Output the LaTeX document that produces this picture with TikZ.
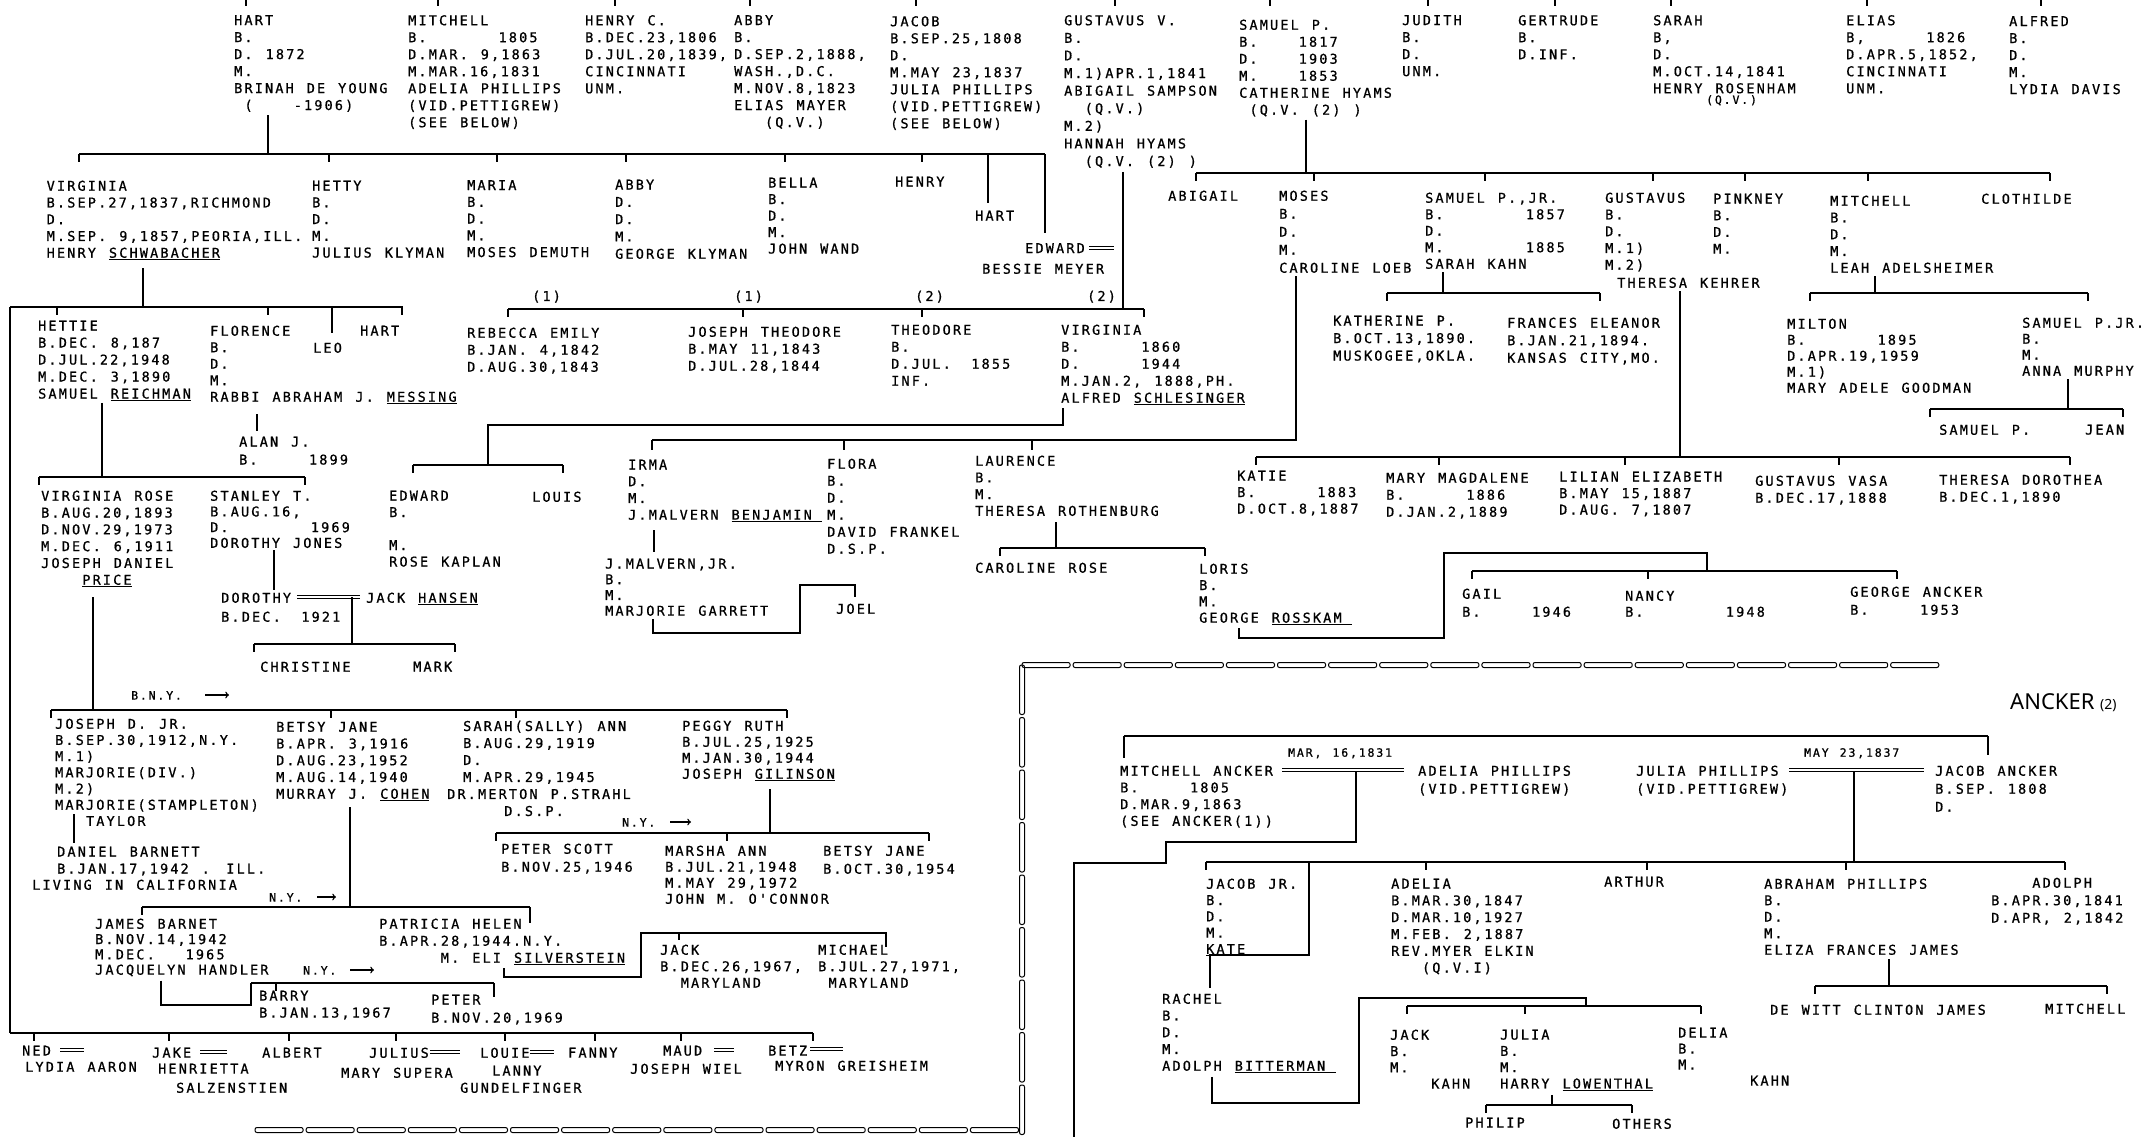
\documentclass[tikz,border=0pt]{standalone}
\usepackage{fontspec}
\newfontfamily\typ[LetterSpace=16,WordSpace={1.265,0,0},FakeBold=0.8]{DejaVu Sans Mono}
\newfontfamily\ttl{Noto Sans}
\newlength{\chw}
\setlength{\chw}{10.28pt}
\newcommand{\pad}[1]{\hspace*{#1\chw}}
\newcommand{\sibbar}[4]{%
  % #1 = y of the bar
  % #2, #3 = left and right ends
  % #4 = x of the drops
  \draw[kin] (#2,#1) -- (#3,#1);
  \foreach \tx in {#4} \draw[kin] (\tx,#1) -- ++(0,8);
}
\newcommand{\ropeh}[4]{%
  % #1 = y, #2 = start x, #3 = link length, #4 = links
  \foreach \k in {1,...,#4}
    \draw[rope] ({#2+(\k-1)*#3},{#1-2.5}) rectangle ({#2+\k*#3-3},{#1+2.5});
}
\newcommand{\ropev}[4]{%
  % #1 = x, #2 = start y, #3 = link length, #4 = links
  \foreach \k in {1,...,#4}
    \draw[rope] ({#1-2.5},{#2+(\k-1)*#3}) rectangle ({#1+2.5},{#2+\k*#3-3});
}
\tikzset{
  pers/.style={font={\typ\fontsize{13.5}{#1}\selectfont}, align=left, inner sep=0pt, anchor=north west},
  pers/.default=17,
  note/.style={font={\typ\fontsize{11.5}{13}\selectfont}, inner sep=0pt, anchor=north west},
  kin/.style={line width=1.4pt},
  wed/.style={double, double distance=2.2pt, line width=0.9pt},
  rope/.style={line width=1pt, rounded corners=2pt},
}

\begin{document}
\begin{tikzpicture}[x=1pt, y=-1pt]
  \fill[white] (0,0) rectangle (2143,1137);
  \useasboundingbox (0,0) rectangle (2143,1137);

  % ---- first generation
  \foreach \tx in {246,438,615,750,916,1115,1270,1428,1555,1671,1867,2041}
    \draw[kin] (\tx,0) -- (\tx,6);
  \node[pers] (hart) at (234,15) {HART\\B.\\D. 1872\\M.\\BRINAH DE YOUNG\\\pad{1}(\pad{4}-1906)};
  \node[pers] (mitchell) at (408,15) {MITCHELL\\B.\pad{7}1805\\D.MAR. 9,1863\\M.MAR.16,1831\\ADELIA PHILLIPS\\(VID.PETTIGREW)\\(SEE BELOW)};
  \node[pers] (henryc) at (585,15) {HENRY C.\\B.DEC.23,1806\\D.JUL.20,1839,\\CINCINNATI\\UNM.};
  \node[pers] (abby) at (734,15) {ABBY\\B.\\D.SEP.2,1888,\\WASH.,D.C.\\M.NOV.8,1823\\ELIAS MAYER\\\pad{3}(Q.V.)};
  \node[pers] (jacob) at (890,16) {JACOB\\B.SEP.25,1808\\D.\\M.MAY 23,1837\\JULIA PHILLIPS\\(VID.PETTIGREW)\\(SEE BELOW)};
  \node[pers=17.6] (gustavus) at (1064,15) {GUSTAVUS V.\\B.\\D.\\M.1)APR.1,1841\\ABIGAIL SAMPSON\\\pad{2}(Q.V.)\\M.2)\\HANNAH HYAMS\\\pad{2}(Q.V. (2) )};
  \node[pers] (samuel) at (1239,19.5) {SAMUEL P.\\B.\pad{4}1817\\D.\pad{4}1903\\M.\pad{4}1853\\CATHERINE HYAMS\\\pad{1}(Q.V. (2) )};
  \node[pers] (judith) at (1402,15) {JUDITH\\B.\\D.\\UNM.};
  \node[pers] (gertrude) at (1518,15) {GERTRUDE\\B.\\D.INF.};
  \node[pers] (sarah) at (1653,15) {SARAH\\B,\\D.\\M.OCT.14,1841\\HENRY ROSENHAM};
  \node[note] (sarahqv) at (1706,95) {(Q.V.)};
  \node[pers] (elias) at (1846,15) {ELIAS\\B,\pad{6}1826\\D.APR.5,1852,\\CINCINNATI\\UNM.};
  \node[pers] (alfred) at (2009,16) {ALFRED\\B.\\D.\\M.\\LYDIA DAVIS};

  % ---- Hart's children
  \draw[kin] (hart.south -| 268,0) ++(0,3) -- (268,154);
  \sibbar{154}{79}{1045}{79,329,497,626,785,922}
  \draw[kin] (988,154) -- (988,203);
  \draw[kin] (1045,154) -- (1045,233);
  \node[pers=16.75] (virginia) at (46.5,180.5) {VIRGINIA\\B.SEP.27,1837,RICHMOND\\D.\\M.SEP. 9,1857,PEORIA,ILL.\\HENRY \underline{SCHWABACHER}};
  \node[pers=16.75] (hetty) at (312,180.5) {HETTY\\B.\\D.\\M.\\JULIUS KLYMAN};
  \node[pers=16.75] (maria) at (467,180) {MARIA\\B.\\D.\\M.\\MOSES DEMUTH};
  \node[pers=17.3] (abbyk) at (615,179.5) {ABBY\\D.\\D.\\M.\\GEORGE KLYMAN};
  \node[pers=16.5] (bella) at (768,177.5) {BELLA\\B.\\D.\\M.\\JOHN WAND};
  \node[pers] (henry) at (895,176.5) {HENRY};
  \node[pers] (harty) at (975,210.5) {HART};
  \node[pers] (edward) at (1025,243) {EDWARD};
  \draw[wed] (1089,248) -- (1114,248);
  \node[pers] (bessie) at (982,263.5) {BESSIE MEYER};

  % ---- Gustavus V.'s children
  \draw[kin] (gustavus.south -| 1123,0) ++(0,4) -- (1123,309);
  \sibbar{309}{508}{1144}{508,743,922,1144}
  \node[pers] (one) at (532,290.5) {(1)};
  \node[pers] (onee) at (734,290.5) {(1)};
  \node[pers] (two) at (915,290.5) {(2)};
  \node[pers] (twoo) at (1087,290.5) {(2)};
  \node[pers] (rebecca) at (467,327.5) {REBECCA EMILY\\B.JAN. 4,1842\\D.AUG.30,1843};
  \node[pers] (josephth) at (688,326.5) {JOSEPH THEODORE\\B.MAY 11,1843\\D.JUL.28,1844};
  \node[pers] (theodore) at (891,324.5) {THEODORE\\B.\\D.JUL.\pad{2}1855\\INF.};
  \node[pers] (virginias) at (1061,324.5) {VIRGINIA\\B.\pad{6}1860\\D.\pad{6}1944\\M.JAN.2, 1888,PH.\\ALFRED \underline{SCHLESINGER}};

  % ---- Schlesinger children
  \draw[kin] (virginias.south -| 1063,0) ++(0,3) -- (1063,425) -- (488,425) -- (488,465);
  \sibbar{465}{413}{563}{413,563}
  \node[pers=16.5] (edwards) at (389,490.5) {EDWARD\\B.\\\mbox{}\\M.\\ROSE KAPLAN};
  \node[pers] (louis) at (532,491.5) {LOUIS};

  % ---- Samuel P.'s children
  \draw[kin] (samuel.south -| 1306,0) ++(0,3) -- (1306,173);
  \sibbar{173}{1196}{2050}{1196,1314,1485,1653,1745,1868,2050}
  \node[pers] (abigail) at (1168,190.5) {ABIGAIL};
  \node[pers=18] (moses) at (1279,190.5) {MOSES\\B.\\D.\\M.\\CAROLINE LOEB};
  \node[pers=16.5] (samjr) at (1425,192.5) {SAMUEL P.,JR.\\B.\pad{8}1857\\D.\\M.\pad{8}1885\\SARAH KAHN};
  \node[pers=16.75] (gusk) at (1605,192.5) {GUSTAVUS\\B.\\D.\\M.1)\\M.2)};
  \node[pers] (kehrer) at (1617,277.5) {THERESA KEHRER};
  \node[pers=16.7] (pinkney) at (1713,193.5) {PINKNEY\\B.\\D.\\M.};
  \node[pers=16.75] (mitchl) at (1830,195.5) {MITCHELL\\B.\\D.\\M.\\LEAH ADELSHEIMER};
  \node[pers] (clothilde) at (1981,193.5) {CLOTHILDE};

  \draw[kin] (samjr.south -| 1443,0) ++(0,3) -- (1443,293);
  \sibbar{293}{1387}{1600}{1387,1600}
  \node[pers=17.5] (katherine) at (1333,315.5) {KATHERINE P.\\B.OCT.13,1890.\\MUSKOGEE,OKLA.};
  \node[pers=17.5] (frances) at (1507,317.5) {FRANCES ELEANOR\\B.JAN.21,1894.\\KANSAS CITY,MO.};

  \draw[kin] (mitchl.south -| 1875,0) ++(0,3) -- (1875,293);
  \sibbar{293}{1810}{2088}{1810,2088}
  \node[pers=16] (milton) at (1787,318.5) {MILTON\\B.\pad{7}1895\\D.APR.19,1959\\M.1)\\MARY ADELE GOODMAN};
  \node[pers=16] (samjrr) at (2022,317.5) {SAMUEL P.JR.\\B.\\M.\\ANNA MURPHY};
  \draw[kin] (samjrr.south -| 2068,0) ++(0,3) -- (2068,409);
  \sibbar{409}{1930}{2123}{1930,2123}
  \node[pers] (samp) at (1939,424.5) {SAMUEL P.};
  \node[pers] (jean) at (2085,424.5) {JEAN};

  \draw[kin] (kehrer.south -| 1680,0) ++(0,3) -- (1680,457);
  \sibbar{457}{1256}{2070}{1256,1439,1625,1839,2070}
  \node[pers=16.5] (katie) at (1237,470.5) {KATIE\\B.\pad{6}1883\\D.OCT.8,1887};
  \node[pers=17] (marym) at (1386,472.5) {MARY MAGDALENE\\B.\pad{6}1886\\D.JAN.2,1889};
  \node[pers=16.5] (lilian) at (1559,471.5) {LILIAN ELIZABETH\\B.MAY 15,1887\\D.AUG. 7,1807};
  \node[pers] (gusvasa) at (1755,475.5) {GUSTAVUS VASA\\B.DEC.17,1888};
  \node[pers] (theresad) at (1939,474.5) {THERESA DOROTHEA\\B.DEC.1,1890};

  % ---- Moses and Caroline Loeb
  \draw[kin] (moses.south -| 1296,0) ++(0,3) -- (1296,440) -- (652,440);
  \foreach \tx in {652,844,1032} \draw[kin] (\tx,440) -- ++(0,10);
  \node[pers=16.7] (irma) at (628,459.5) {IRMA\\D.\\M.\\J.MALVERN \underline{BENJAMIN\pad{1}}};
  \draw[kin] (irma.south -| 654,0) ++(0,8) -- (654,552);
  \node[pers=15.7] (jmalvern) at (605,558.5) {J.MALVERN,JR.\\B.\\M.\\MARJORIE GARRETT};
  \draw[kin] (jmalvern.south -| 653,0) ++(0,3) -- (653,633) -- (800,633) -- (800,585) -- (855,585) -- (855,597);
  \node[pers] (joel) at (836,603.5) {JOEL};
  \node[pers] (flora) at (827,458.5) {FLORA\\B.\\D.\\M.\\DAVID FRANKEL\\D.S.P.};
  \node[pers=16.7] (laurence) at (975,455.5) {LAURENCE\\B.\\M.\\THERESA ROTHENBURG};
  \draw[kin] (laurence.south -| 1056,0) ++(0,6) -- (1056,548);
  \sibbar{548}{1000}{1205}{1000,1205}
  \node[pers] (caroline) at (975,562.5) {CAROLINE ROSE};
  \node[pers=16.3] (loris) at (1199,563.5) {LORIS\\B.\\M.\\GEORGE \underline{ROSSKAM\pad{1}}};
  \draw[kin] (loris.south -| 1239,0) ++(0,3) -- (1239,638) -- (1444,638) -- (1444,553) -- (1707,553) -- (1707,571);
  \sibbar{571}{1472}{1897}{1472,1648,1897}
  \node[pers=18] (gail) at (1462,588.5) {GAIL\\B.\pad{5}1946};
  \node[pers=16] (nancy) at (1625,590.5) {NANCY\\B.\pad{8}1948};
  \node[pers=18] (georgea) at (1850,586.5) {GEORGE ANCKER\\B.\pad{5}1953};

  % ---- Schwabacher children
  \draw[kin] (virginia.south -| 143,0) ++(0,8) -- (143,307);
  \sibbar{307}{10}{403}{57,268,402}
  \draw[kin] (332,307) -- (332,333);
  \draw[kin] (10,307) -- (10,1033);
  \node[pers] (hettie) at (38,320.5) {HETTIE\\B.DEC. 8,187\\D.JUL.22,1948\\M.DEC. 3,1890\\SAMUEL \underline{REICHMAN}};
  \node[pers=16.5] (florence) at (210,325.5) {FLORENCE\\B.\\D.\\M.\\RABBI ABRAHAM J. \underline{MESSING}};
  \node[pers] (leo) at (313,342.5) {LEO};
  \node[pers] (hartv) at (360,325.5) {HART};
  \draw[kin] (florence.south -| 257,0) ++(0,10) -- (257,431);
  \node[pers=18] (alan) at (239,436.5) {ALAN J.\\B.\pad{5}1899};

  \draw[kin] (hettie.south -| 102,0) ++(0,2) -- (102,477);
  \sibbar{477}{39}{305}{39,305}
  \node[pers=16.8] (virginiar) at (41,490.5) {VIRGINIA ROSE\\B.AUG.20,1893\\D.NOV.29,1973\\M.DEC. 6,1911\\JOSEPH DANIEL\\\pad{4}\underline{PRICE}};
  \node[pers=15.7] (stanley) at (210,490.5) {STANLEY T.\\B.AUG.16,\\D.\pad{8}1969\\DOROTHY JONES};
  \draw[kin] (stanley.south -| 274,0) ++(0,2) -- (274,590);
  \node[pers=19] (dorothy) at (221,592.5) {DOROTHY\\B.DEC.\pad{2}1921};
  \draw[wed] (297,597) -- (360,597);
  \coordinate (hansenwed) at (352,597);
  \node[pers] (jack) at (366,592.5) {JACK \underline{HANSEN}};
  \draw[kin] (hansenwed) -- (352,644);
  \sibbar{644}{254}{455}{254,455}
  \node[pers] (christine) at (260,661.5) {CHRISTINE};
  \node[pers] (mark) at (413,661.5) {MARK};

  % ---- Price children
  \draw[kin] (virginiar.south -| 93,0) ++(0,10) -- (93,710);
  \sibbar{710}{51}{787}{51,331,516,787}
  \node[note] (bny) at (131,691) {B.N.Y.};
  \draw[kin, ->] (205,695) -- (229,695);
  \node[pers=16.2] (josephd) at (55,718.5) {JOSEPH D. JR.\\B.SEP.30,1912,N.Y.\\M.1)\\MARJORIE(DIV.)\\M.2)\\MARJORIE(STAMPLETON)\\\pad{3}TAYLOR};
  \draw[kin] (74,814) -- (74,843);
  \node[pers] (daniel) at (57,846.5) {DANIEL BARNETT\\B.JAN.17,1942 . ILL.};
  \node[pers] (living) at (32,879.5) {LIVING IN CALIFORNIA};
  \node[pers=16.75] (betsy) at (276,721.5) {BETSY JANE\\B.APR. 3,1916\\D.AUG.23,1952\\M.AUG.14,1940\\MURRAY J. \underline{COHEN}};
  \node[pers] (sarahs) at (463,720.5) {SARAH(SALLY) ANN\\B.AUG.29,1919\\D.\\M.APR.29,1945\\\hspace*{-16pt}DR.MERTON P.STRAHL\\\pad{4}D.S.P.};
  \node[pers=16] (peggy) at (682,720.5) {PEGGY RUTH\\B.JUL.25,1925\\M.JAN.30,1944\\JOSEPH \underline{GILINSON}};

  % ---- Cohen children
  \draw[kin] (betsy.south -| 350,0) ++(0,6) -- (350,907);
  \sibbar{907}{142}{530}{142,530}
  \draw[kin] (530,907) -- (530,923);
  \node[note] (nya) at (269,893) {N.Y.};
  \draw[kin, ->] (317,897) -- (336,897);
  \node[pers=15.3] (james) at (95,918.5) {JAMES BARNET\\B.NOV.14,1942\\M.DEC.\pad{3}1965\\JACQUELYN HANDLER};
  \draw[kin] (james.south -| 161,0) ++(0,4) -- (161,1005) -- (251,1005) -- (251,983);
  \sibbar{983}{251}{494}{276,494}
  \draw[kin] (494,983) -- (494,997);
  \node[note] (nyb) at (303,966) {N.Y.};
  \draw[kin, ->] (350,970) -- (374,970);
  \node[pers] (barry) at (259,990.5) {BARRY\\B.JAN.13,1967};
  \node[pers=18] (peter) at (431,994.5) {PETER\\B.NOV.20,1969};
  \node[pers] (patricia) at (379,918.5) {PATRICIA HELEN\\B.APR.28,1944.N.Y.\\\pad{6}M. ELI \underline{SILVERSTEIN}};
  \draw[kin] (patricia.south -| 504,0) ++(0,3) -- (504,977) -- (641,977) -- (641,933) -- (886,933) -- (886,947);
  \draw[kin] (679,933) -- (679,940);
  \node[pers=16.5] (jackm) at (660,944.5) {JACK\\B.DEC.26,1967,\\\pad{2}MARYLAND};
  \node[pers=16.5] (michael) at (818,944.5) {MICHAEL\\B.JUL.27,1971,\\\pad{1}MARYLAND};

  % ---- Gilinson children
  \draw[kin] (peggy.south -| 770,0) ++(0,8) -- (770,833);
  \sibbar{833}{496}{929}{496,727,929}
  \node[note] (nyc) at (622,818) {N.Y.};
  \draw[kin, ->] (670,822) -- (691,822);
  \node[pers=18] (peters) at (501,843.5) {PETER SCOTT\\B.NOV.25,1946};
  \node[pers=16] (marsha) at (665,845.5) {MARSHA ANN\\B.JUL.21,1948\\M.MAY 29,1972\\JOHN M. O'CONNOR};
  \node[pers=18] (betsyj) at (823,845.5) {BETSY JANE\\B.OCT.30,1954};

  % ---- the long line on the left
  \sibbar{1033}{10}{813}{34,169,289,396,505,595,681,813}
  \node[pers] (ned) at (22,1045.5) {NED};
  \draw[wed] (60,1050) -- (84,1050);
  \node[pers] (lydia) at (25,1061.5) {LYDIA AARON};
  \node[pers] (jake) at (152,1047.5) {JAKE};
  \draw[wed] (200,1052) -- (227,1052);
  \node[pers] (henrietta) at (158,1063.5) {HENRIETTA};
  \node[pers] (salzen) at (176,1082.5) {SALZENSTIEN};
  \node[pers] (albert) at (262,1047.5) {ALBERT};
  \node[pers] (julius) at (369,1047.5) {JULIUS};
  \draw[wed] (430,1052) -- (460,1052);
  \node[pers] (marys) at (341,1067.5) {MARY SUPERA};
  \node[pers] (louie) at (480,1047.5) {LOUIE};
  \draw[wed] (530,1052) -- (554,1052);
  \node[pers] (lanny) at (492,1065.5) {LANNY};
  \node[pers] (gundel) at (460,1082.5) {GUNDELFINGER};
  \node[pers] (fanny) at (568,1047.5) {FANNY};
  \node[pers] (maud) at (663,1045.5) {MAUD};
  \draw[wed] (714,1050) -- (734,1050);
  \node[pers] (josephw) at (630,1063.5) {JOSEPH WIEL};
  \node[pers] (betz) at (768,1045.5) {BETZ};
  \draw[wed] (810,1049) -- (843,1049);
  \node[pers] (myron) at (775,1060.5) {MYRON GREISHEIM};

  % ---- rope border
  \ropeh{665}{1022}{51.1}{18}
  \ropev{1022}{665}{52.5}{9}
  \ropeh{1130}{255}{51.1}{15}

  % ---- ANCKER (2)
  \node[font={\ttl\fontsize{22}{24}\selectfont}, anchor=west, inner sep=0pt] (title) at (2010,703) {ANCKER {\fontsize{14}{15}\selectfont (2)}};
  \sibbar{736}{1124}{1988}{}
  \draw[kin] (1124,736) -- (1124,758);
  \draw[kin] (1988,736) -- (1988,755);
  \node[note] (marlabel) at (1288,748) {MAR, 16,1831};
  \node[pers=16.7] (mitchella) at (1120,765.5) {MITCHELL ANCKER\\B.\pad{5}1805\\D.MAR.9,1863\\(SEE ANCKER(1))};
  \node[pers=18] (adeliap) at (1418,765.5) {ADELIA PHILLIPS\\(VID.PETTIGREW)};
  \draw[wed] (1282,770) -- (1404,770);
  \draw[kin] (1356,771) -- (1356,842) -- (1166,842) -- (1166,863) -- (1074,863) -- (1074,1137);
  \node[note] (maylabel) at (1804,748) {MAY 23,1837};
  \node[pers=18] (juliap) at (1636,765.5) {JULIA PHILLIPS\\(VID.PETTIGREW)};
  \draw[wed] (1789,770) -- (1924,770);
  \node[pers=18] (jacoba) at (1935,765.5) {JACOB ANCKER\\B.SEP. 1808\\D.};
  \draw[kin] (1854,771) -- (1854,862);
  \sibbar{862}{1206}{2065}{1206,1426,1647,1846,2065}
  \node[pers=16.3] (jacobjr) at (1206,878.5) {JACOB JR.\\B.\\D.\\M.\\\underline{KATE}};
  \draw[kin] (1309,862) -- (1309,955) -- (1209,955);
  \draw[kin] (1210,955) -- (1210,988);
  \node[pers=16.8] (adelia) at (1391,878.5) {ADELIA\\B.MAR.30,1847\\D.MAR.10,1927\\M.FEB. 2,1887\\REV.MYER ELKIN\\\pad{3}(Q.V.I)};
  \node[pers] (arthur) at (1604,876.5) {ARTHUR};
  \node[pers=16.5] (abraham) at (1764,878.5) {ABRAHAM PHILLIPS\\B.\\D.\\M.\\ELIZA FRANCES JAMES};
  \node[pers=17.5] (adolph) at (1991,877.5) {\pad{4}ADOLPH\\B.APR.30,1841\\D.APR, 2,1842};
  \draw[kin] (abraham.south -| 1889,0) ++(0,4) -- (1889,986);
  \sibbar{986}{1815}{2107}{1815,2107}
  \node[pers] (dewitt) at (1770,1004.5) {DE WITT CLINTON JAMES};
  \node[pers] (mitchelj) at (2045,1003.5) {MITCHELL};
  \node[pers=16.75] (rachel) at (1162,993.5) {RACHEL\\B.\\D.\\M.\\ADOLPH \underline{BITTERMAN\pad{1}}};
  \draw[kin] (rachel.south -| 1212,0) ++(0,4) -- (1212,1103) -- (1359,1103) -- (1359,998) -- (1586,998) -- (1586,1006);
  \sibbar{1006}{1407}{1701}{1407,1525,1701}
  \node[pers=16.3] (jackk) at (1390,1029.5) {JACK\\B.\\M.\\\pad{4}KAHN};
  \node[pers=16.3] (julia) at (1500,1029.5) {JULIA\\B.\\M.\\HARRY \underline{LOWENTHAL}};
  \node[pers=16] (delia) at (1678,1027.5) {DELIA\\B.\\M.\\\pad{7}KAHN};
  \draw[kin] (julia.south -| 1552,0) ++(0,4) -- (1552,1105);
  \sibbar{1105}{1486}{1632}{1486,1632}
  \node[pers] (philip) at (1465,1117.5) {PHILIP};
  \node[pers] (others) at (1612,1118.5) {OTHERS};
\end{tikzpicture}
\end{document}
